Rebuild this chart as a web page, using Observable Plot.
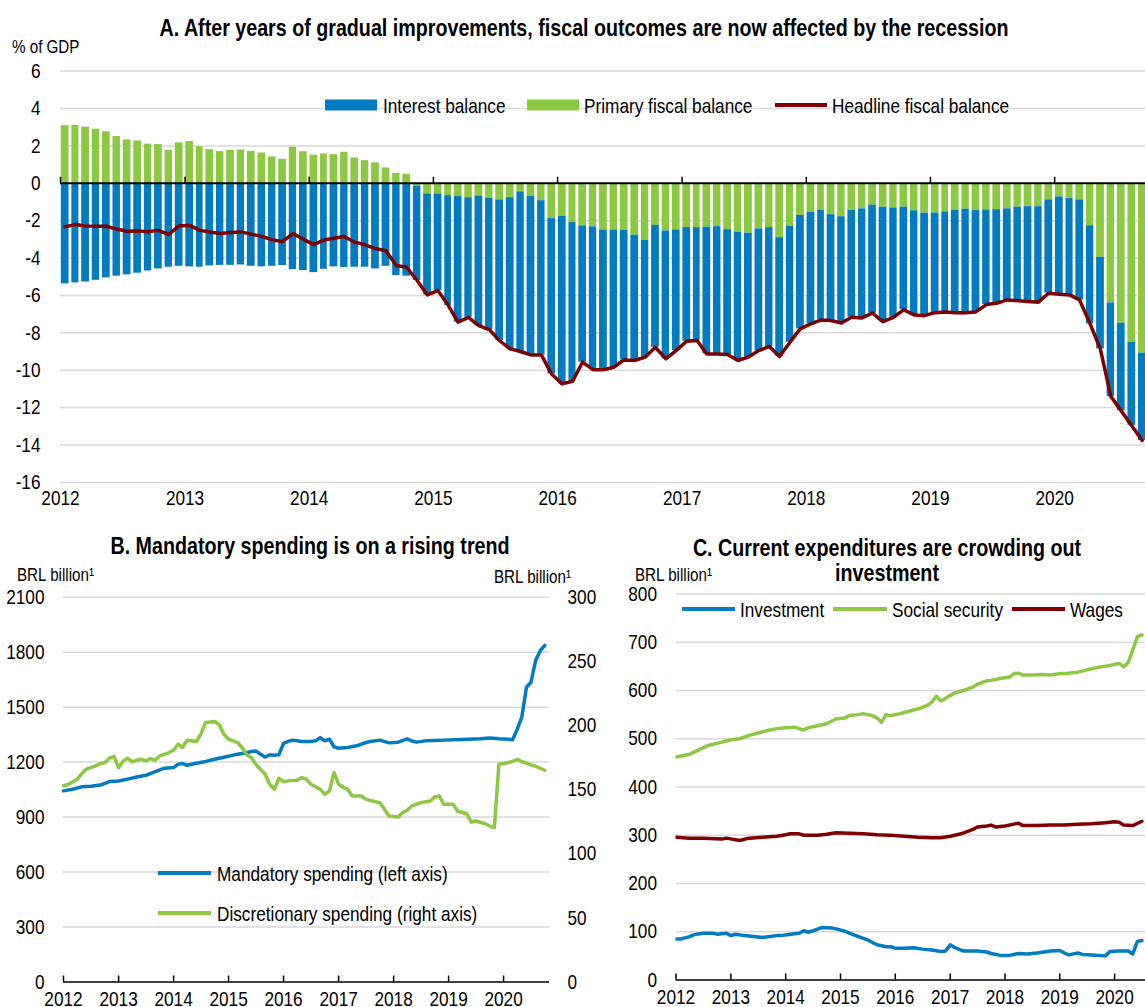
<!DOCTYPE html>
<html>
<head>
<meta charset="utf-8">
<script src="https://cdn.jsdelivr.net/npm/d3@7"></script>
<script src="https://cdn.jsdelivr.net/npm/@observablehq/plot@0.6"></script>
<style>
  html, body { margin: 0; padding: 0; background: #fff; }
  #root { position: relative; width: 1145px; height: 1007px; overflow: hidden;
    font-family: "Liberation Sans", Arial, sans-serif; color: #000; }
  #root svg { position: absolute; background: transparent !important; }
  .t { position: absolute; white-space: nowrap; line-height: 1; transform: translateY(-50%) scaleX(0.82); transform-origin: left center; }
  .c { transform: translate(-50%, -50%) scaleX(0.82); transform-origin: center center; }
  .title { font-weight: bold; font-size: 24px; }
  .unit { font-size: 18.5px; }
  .leg { font-size: 21px; }
  .sw { position: absolute; transform: translateY(-50%); }
</style>
</head>
<body>
<div id="root"></div>
<script>
// ---------------- DATA ----------------
// Panel A: monthly, Jan 2012 .. Sep 2020, % of GDP (12-month sums)
const interestBalance = [
  -5.38,-5.33,-5.28,-5.19,-5.06,-4.97,-4.90,-4.81,-4.69,-4.58,-4.49,-4.44,
  -4.47,-4.49,-4.42,-4.39,-4.39,-4.37,-4.44,-4.47,-4.44,-4.40,-4.62,-4.67,
  -4.78,-4.60,-4.47,-4.51,-4.49,-4.49,-4.58,-4.44,-4.94,-4.97,-5.05,-5.40,
  -5.17,-5.88,-6.72,-6.40,-6.93,-7.03,-7.52,-8.09,-8.54,-8.47,-8.25,-8.31,
  -8.97,-8.49,-7.29,-7.64,-7.48,-7.34,-6.94,-6.70,-6.25,-6.52,-6.84,-6.45,
  -6.08,-6.04,-6.78,-6.81,-6.68,-6.86,-6.63,-6.51,-6.36,-6.36,-6.20,-6.07,
  -5.97,-5.87,-5.66,-5.68,-5.72,-5.83,-5.78,-6.12,-5.85,-5.49,-5.57,-5.48,
  -5.33,-5.35,-5.48,-5.53,-5.42,-5.06,-5.01,-4.87,-5.01,-5.08,-5.11,-4.99,
  -5.21,-5.15,-5.35,-5.25,-4.90,-5.01,-4.67,-4.46,-4.67
];
const primaryBalance = [
   3.08, 3.10, 3.00, 2.89, 2.75, 2.50, 2.32, 2.26, 2.09, 2.07, 1.75, 2.16,
   2.23, 1.96, 1.80, 1.69, 1.75, 1.78, 1.71, 1.62, 1.41, 1.28, 1.93, 1.69,
   1.50, 1.57, 1.53, 1.66, 1.35, 1.21, 1.09, 0.82, 0.53, 0.48,-0.15,-0.57,
  -0.57,-0.66,-0.71,-0.77,-0.68,-0.80,-0.89,-0.77,-0.46,-0.71,-0.93,-1.89,
  -1.76,-2.10,-2.28,-2.33,-2.50,-2.50,-2.51,-2.78,-3.05,-2.25,-2.55,-2.50,
  -2.37,-2.37,-2.35,-2.32,-2.48,-2.62,-2.67,-2.44,-2.37,-2.91,-2.30,-1.72,
  -1.55,-1.44,-1.68,-1.79,-1.45,-1.37,-1.17,-1.28,-1.32,-1.28,-1.47,-1.60,
  -1.59,-1.53,-1.44,-1.39,-1.46,-1.43,-1.41,-1.37,-1.28,-1.25,-1.25,-0.89,
  -0.73,-0.82,-0.89,-2.27,-3.96,-6.40,-7.49,-8.50,-9.09
];
const headlineBalance = [
  -2.33,-2.21,-2.28,-2.30,-2.30,-2.45,-2.57,-2.55,-2.59,-2.52,-2.74,-2.28,
  -2.25,-2.52,-2.61,-2.69,-2.63,-2.60,-2.72,-2.84,-3.02,-3.12,-2.69,-2.99,
  -3.28,-3.03,-2.94,-2.85,-3.15,-3.29,-3.49,-3.61,-4.40,-4.49,-5.20,-5.97,
  -5.74,-6.54,-7.43,-7.17,-7.61,-7.83,-8.41,-8.86,-9.00,-9.18,-9.18,-10.20,
  -10.73,-10.59,-9.57,-9.97,-9.98,-9.84,-9.45,-9.48,-9.30,-8.77,-9.39,-8.95,
  -8.45,-8.41,-9.13,-9.13,-9.16,-9.48,-9.30,-8.95,-8.73,-9.27,-8.50,-7.79,
  -7.52,-7.31,-7.34,-7.47,-7.17,-7.20,-6.95,-7.40,-7.17,-6.77,-7.04,-7.08,
  -6.92,-6.88,-6.92,-6.92,-6.88,-6.49,-6.42,-6.24,-6.29,-6.33,-6.36,-5.88,
  -5.94,-5.97,-6.24,-7.52,-8.86,-11.41,-12.16,-12.96,-13.76
];
const yTicksA = [6, 4, 2, 0, -2, -4, -6, -8, -10, -12, -14, -16];
const years = [2012, 2013, 2014, 2015, 2016, 2017, 2018, 2019, 2020];

// Panel B: month index (0 = Jan 2012), BRL billion (12-month sums)
const mandatoryMonths = [0,2,4,6,8,10,12,14,16,18,20,22,24,25,26,27,29,31,32,33,35,37,38,40,41,42,43,44,45,46,47,48,49,50,52,54,55,56,57,58,59,60,62,64,66,67,69,71,73,75,76,77,79,83,87,91,93,95,97,98,99,100,101,102,103,104,105];
const mandatorySpending = [1043,1052,1065,1068,1075,1094,1097,1107,1119,1128,1148,1167,1170,1189,1192,1183,1194,1203,1210,1216,1227,1238,1243,1251,1258,1261,1243,1228,1240,1238,1240,1302,1313,1320,1313,1313,1316,1334,1316,1325,1283,1276,1280,1289,1307,1312,1320,1305,1309,1327,1315,1309,1316,1320,1323,1327,1331,1327,1325,1322,1380,1445,1609,1636,1755,1809,1837];
const discretionaryMonths = [0,1,3,4,5,7,8,9,10,11,12,13,14,15,16,17,18,19,20,21,23,24,25,26,27,29,30,31,33,34,35,36,38,39,40,41,42,44,45,46,47,48,49,51,52,53,54,56,57,58,59,60,61,62,63,65,66,69,70,71,73,74,75,76,78,80,81,82,83,85,86,88,89,90,92,93,94,95,96,98,99,100,102,103,105];
const discretionarySpending = [153,154,158,162.5,166,168.5,170.3,171,174.5,176,167,172.4,174.5,171.6,172.9,173.7,172.4,174.2,172.9,176.3,178.9,180.7,185.4,182.8,188.5,187.5,193.2,202.3,203.1,200.5,193.2,189.3,186.7,182.8,177.1,175,169.8,162,154.2,150.3,158.8,156.2,156.8,157.3,159.4,158.1,154.2,150.3,146.3,148.9,163.3,154.2,151.6,150.3,145,145,142.4,139.8,134.6,129.4,128.6,132,133.8,137.2,139.8,141.1,144.3,145,138.5,138.5,133.3,131.2,124.7,125.5,123.4,121.6,120.3,169.8,170.3,171.9,173.7,171.9,169.3,168.2,165.1];
const bLeftTicks = [0, 300, 600, 900, 1200, 1500, 1800, 2100];
const bRightTicks = [0, 50, 100, 150, 200, 250, 300];

// Panel C: month index (0 = Jan 2012), BRL billion (12-month sums)
const socialMonths = [0,3,5,7,10,12,14,16,18,20,22,24,26,28,29,31,33,35,37,38,40,41,43,44,45,46,47,49,51,53,55,56,57,58,60,61,63,65,66,68,69,71,73,74,75,76,78,80,82,84,86,88,91,93,95,97,98,99,100,101,102];
const socialSecurity = [462,468,477,486,493,498,500,507,512,517,521,523,524,518,523,527,531,541,543,548,550,552,548,543,534,550,548,552,557,562,569,576,588,578,590,595,600,607,613,620,621,625,628,635,636,632,632,633,632,635,636,638,645,649,652,656,649,658,684,712,715];
const wagesMonths = [0,3,6,10,11,14,16,19,22,24,25,27,28,31,33,35,38,41,44,47,50,53,56,58,60,62,63,65,66,68,69,70,72,74,75,76,79,82,85,88,91,94,96,97,98,100,102];
const wages = [296,294,294,292,294,289,294,296,298,301,303,303,300,300,302,305,304,303,301,300,298,296,295,295,298,302,305,312,317,319,321,317,319,323,325,320,320,321,321,323,324,326,328,327,321,320,329];
const investmentMonths = [0,1,3,4,6,8,9,11,12,13,15,17,19,22,23,25,27,28,29,30,32,34,35,37,38,40,42,44,46,47,48,50,52,54,56,58,59,60,61,63,66,68,69,71,73,75,77,79,82,84,85,86,88,89,91,94,95,97,99,100,101,102];
const investment = [85,85,90,94,97,97,95,97,92,95,92,90,88,92,92,95,97,102,99,102,109,108,106,101,97,90,83,73,69,69,66,66,67,64,62,59,60,73,67,60,60,58,55,51,51,55,54,56,60,61,56,52,56,53,52,50,59,60,60,54,80,82];
const cTicks = [0, 100, 200, 300, 400, 500, 600, 700, 800];

// ---------------- STYLE ----------------
const FONT = '"Liberation Sans", Arial, sans-serif';
const NARROW = 0.82; // Arial Narrow ~ Arial compressed horizontally
const BLUE = "#037BC1", GREEN = "#8CC841", RED = "#7F0000", GRID = "#d9d9d9";
const START = new Date(Date.UTC(2012, 0, 1));
const monthDate = m => d3.utcMonth.offset(START, m);
const yearDates = years.map(y => new Date(Date.UTC(y, 0, 1)));
const baseStyle = {fontFamily: FONT, fontSize: "21px", color: "#000", background: "transparent", overflow: "visible"};

const root = document.getElementById("root");
function place(el, left, top) { el.style.left = left + "px"; el.style.top = top + "px"; root.appendChild(el); }
function condense(svg) {
  svg.querySelectorAll("text").forEach(t => {
    const x = +(t.getAttribute("x") || 0);
    const prev = t.getAttribute("transform") || "";
    t.setAttribute("transform", `${prev} translate(${x},0) scale(${NARROW},1) translate(${-x},0)`);
  });
  return svg;
}

// ---------------- PANEL A ----------------
const monthsA = d3.utcMonth.range(START, new Date(Date.UTC(2020, 9, 1)));
const barRows = [
  ...monthsA.map((d, i) => ({date: d, series: "Primary fiscal balance", value: primaryBalance[i]})),
  ...monthsA.map((d, i) => ({date: d, series: "Interest balance", value: interestBalance[i]}))
];
const headRows = monthsA.map((d, i) => ({date: d, value: headlineBalance[i]}));
const hA = 510, mTopA = 70.6, mBotA = 28.1;
const tickA = (6 - (-16)) * 6 / (hA - mTopA - mBotA);
const plotA = Plot.plot({
  width: 1145, height: hA,
  marginTop: mTopA, marginBottom: mBotA, marginLeft: 60, marginRight: 0,
  style: baseStyle,
  x: {type: "utc", domain: [START, new Date(Date.UTC(2020, 8, 24))], ticks: yearDates, tickFormat: d3.utcFormat("%Y"), tickSize: 0, tickPadding: 8, label: null},
  y: {domain: [-16, 6], ticks: yTicksA, tickSize: 0, tickPadding: 20, tickFormat: d => String(d), label: null},
  color: {domain: ["Interest balance", "Primary fiscal balance"], range: [BLUE, GREEN]},
  marks: [
    Plot.ruleY(yTicksA.filter(d => d !== 0), {stroke: GRID, strokeWidth: 1.5}),
    Plot.rectY(barRows, {x1: "date", x2: d => d3.utcMonth.offset(d.date, 1), y: "value", fill: "series", insetLeft: 0.8, insetRight: 2, clip: true}),
    Plot.ruleY([0], {stroke: "#000", strokeWidth: 2}),
    Plot.ruleX(yearDates, {x: d => d, y1: 0, y2: tickA, stroke: "#000", strokeWidth: 1.5}),
    Plot.lineY(headRows, {x: "date", y: "value", stroke: RED, strokeWidth: 3.5, dx: 4.5, strokeLinejoin: "round", clip: true})
  ]
});
place(condense(plotA), 0, 0);

// ---------------- PANEL B ----------------
const B_RATIO = 2100 / 300;
const mandRows = mandatoryMonths.map((m, i) => ({date: monthDate(m), value: mandatorySpending[i]}));
const discRows = discretionaryMonths.map((m, i) => ({date: monthDate(m), value: discretionarySpending[i]}));
const hB = 422, mTopB = 11.7, mBotB = 25.5;
const tickB = 2100 * 6 / (hB - mTopB - mBotB);
const plotB = Plot.plot({
  width: 600, height: hB,
  marginTop: mTopB, marginBottom: mBotB, marginLeft: 63, marginRight: 51,
  style: baseStyle,
  x: {type: "utc", domain: [START, new Date(Date.UTC(2020, 10, 1))], ticks: yearDates, tickFormat: d3.utcFormat("%Y"), tickSize: 0, tickPadding: 9, label: null},
  y: {domain: [0, 2100], ticks: bLeftTicks, tickSize: 0, tickPadding: 19, tickFormat: d => String(d), label: null},
  marks: [
    Plot.ruleY(bLeftTicks.filter(d => d > 0), {stroke: GRID, strokeWidth: 1.5}),
    Plot.ruleY([0], {stroke: "#000", strokeWidth: 1.5}),
    Plot.ruleX(yearDates, {x: d => d, y1: 0, y2: tickB, stroke: "#000", strokeWidth: 1.5}),
    Plot.text(bRightTicks, {y: d => d * B_RATIO, text: d => String(d), frameAnchor: "right", textAnchor: "start", dx: 18}),
    Plot.lineY(mandRows, {x: "date", y: "value", stroke: BLUE, strokeWidth: 3.5, strokeLinejoin: "round"}),
    Plot.lineY(discRows, {x: "date", y: d => d.value * B_RATIO, stroke: GREEN, strokeWidth: 3.5, strokeLinejoin: "round"})
  ]
});
place(condense(plotB), 0, 585);

// ---------------- PANEL C ----------------
const ssRows = socialMonths.map((m, i) => ({date: monthDate(m), value: socialSecurity[i]}));
const wRows = wagesMonths.map((m, i) => ({date: monthDate(m), value: wages[i]}));
const invRows = investmentMonths.map((m, i) => ({date: monthDate(m), value: investment[i]}));
const hC = 422, mTopC = 8.5, mBotC = 27.5;
const tickC = 800 * 6 / (hC - mTopC - mBotC);
const plotC = Plot.plot({
  width: 545, height: hC,
  marginTop: mTopC, marginBottom: mBotC, marginLeft: 75.5, marginRight: 0,
  style: baseStyle,
  x: {type: "utc", domain: [START, new Date(Date.UTC(2020, 6, 25))], ticks: yearDates, tickFormat: d3.utcFormat("%Y"), tickSize: 0, tickPadding: 9, label: null},
  y: {domain: [0, 800], ticks: cTicks, tickSize: 0, tickPadding: 19, tickFormat: d => String(d), label: null},
  marks: [
    Plot.ruleY(cTicks.filter(d => d > 0), {stroke: GRID, strokeWidth: 1.5}),
    Plot.ruleY([0], {stroke: "#000", strokeWidth: 1.5}),
    Plot.ruleX(yearDates, {x: d => d, y1: 0, y2: tickC, stroke: "#000", strokeWidth: 1.5}),
    Plot.lineY(invRows, {x: "date", y: "value", stroke: BLUE, strokeWidth: 3.5, strokeLinejoin: "round", clip: true}),
    Plot.lineY(ssRows, {x: "date", y: "value", stroke: GREEN, strokeWidth: 3.5, strokeLinejoin: "round", clip: true}),
    Plot.lineY(wRows, {x: "date", y: "value", stroke: RED, strokeWidth: 3.5, strokeLinejoin: "round", clip: true})
  ]
});
place(condense(plotC), 600, 585);

// ---------------- TEXT OVERLAYS ----------------
function text(str, cls, left, top, center) {
  const el = document.createElement("div");
  el.className = "t " + cls + (center ? " c" : "");
  el.textContent = str;
  place(el, left, top);
  return el;
}
function swatch(color, left, top, w, h) {
  const el = document.createElement("div");
  el.className = "sw";
  el.style.width = w + "px"; el.style.height = h + "px"; el.style.background = color;
  place(el, left, top);
}

text("A. After years of gradual improvements, fiscal outcomes are now affected by the recession", "title", 583.5, 28, true);
text("% of GDP", "unit", 12, 47, false);

// Legend A
swatch(BLUE, 325, 104.5, 52, 11); text("Interest balance", "leg", 383, 104.5, false);
swatch(GREEN, 527, 104.5, 52, 11); text("Primary fiscal balance", "leg", 584, 104.5, false);
swatch(RED, 775, 104.5, 52, 4); text("Headline fiscal balance", "leg", 832, 104.5, false);

// Panel B texts
text("B. Mandatory spending is on a rising trend", "title", 310, 546, true);
text("BRL billion¹", "unit", 17, 575, false);
text("BRL billion¹", "unit", 494, 577, false);
swatch(BLUE, 158, 872.5, 53, 4); text("Mandatory spending (left axis)", "leg", 217, 872.5, false);
swatch(GREEN, 158, 913, 53, 4); text("Discretionary spending (right axis)", "leg", 217, 913, false);

// Panel C texts
text("C. Current expenditures are crowding out", "title", 887, 548, true);
text("investment", "title", 887, 573, true);
text("BRL billion¹", "unit", 635, 575, false);
swatch(BLUE, 682, 609, 53, 4); text("Investment", "leg", 740, 609, false);
swatch(GREEN, 833, 609, 54, 4); text("Social security", "leg", 892, 609, false);
swatch(RED, 1012, 609, 53, 4); text("Wages", "leg", 1070, 609, false);
</script>
</body>
</html>
